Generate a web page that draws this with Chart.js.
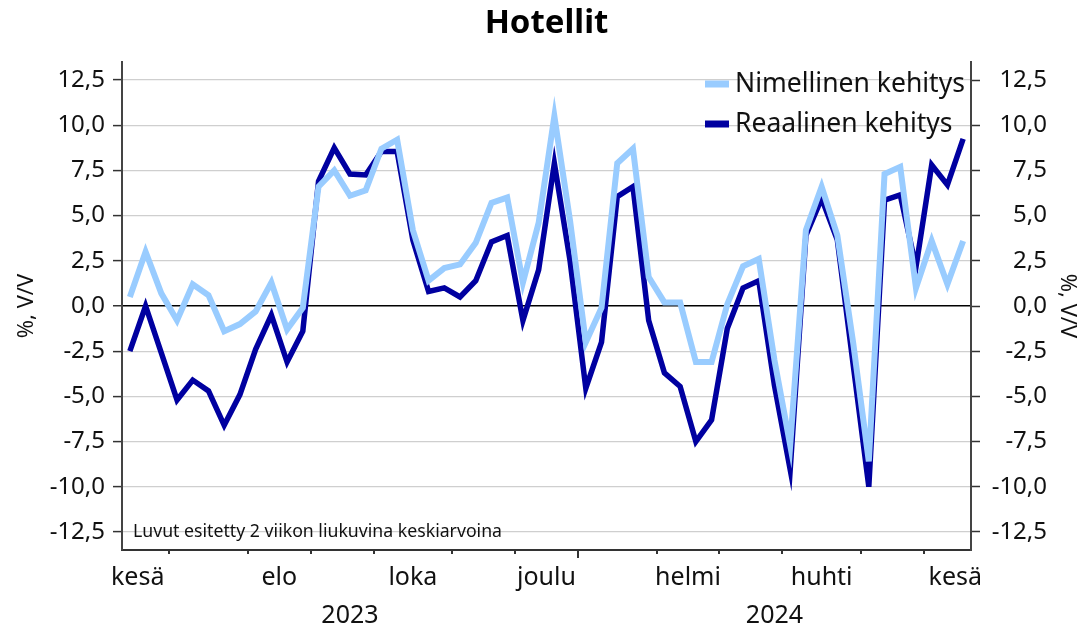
<!DOCTYPE html>
<html>
<head>
<meta charset="utf-8">
<script src="https://cdn.jsdelivr.net/npm/chart.js@4"></script>
<style>
  body { margin: 0; background: #fff; }
</style>
</head>
<body>
<canvas id="chart" width="1082" height="629"></canvas>
<script>
// Weekly values, 2-week moving average (mid June 2023 - mid June 2024)
const nominal = [0.5, 3.0, 0.7, -0.8, 1.2, 0.6, -1.4, -1.0, -0.3, 1.3, -1.3, -0.1,
  6.6, 7.5, 6.1, 6.4, 8.7, 9.2, 4.2, 1.4, 2.1, 2.3, 3.5, 5.7, 6.0,
  1.3, 4.6, 10.5, 4.7, -2.0, -0.1, 7.9, 8.7, 1.6, 0.2, 0.2, -3.1, -3.1,
  0.1, 2.2, 2.6, -3.0, -7.7, 4.2, 6.6, 3.9, -2.0, -8.6, 7.3, 7.7, 1.0, 3.6, 1.2, 3.6];
const real = [-2.5, 0.0, -2.6, -5.2, -4.1, -4.7, -6.6, -4.9, -2.4, -0.5, -3.1, -1.4,
  6.9, 8.75, 7.3, 7.25, 8.55, 8.55, 3.65, 0.8, 1.0, 0.5, 1.4, 3.55, 3.9,
  -0.8, 2.0, 7.9, 2.5, -4.55, -2.0, 6.05, 6.6, -0.8, -3.7, -4.45, -7.5, -6.3,
  -1.25, 1.0, 1.4, -4.4, -9.05, 3.9, 5.95, 3.65, -3.2, -10.0, 5.85, 6.15, 2.15, 7.8, 6.7, 9.25];

const seriesNames = ['Nimellinen kehitys', 'Reaalinen kehitys'];
const months = ['kesä', 'heinä', 'elo', 'syys', 'loka', 'marras', 'joulu',
  'tammi', 'helmi', 'maalis', 'huhti', 'touko', 'kesä'];
const weeksInMonth = [4, 5, 4, 4, 5, 4, 4, 5, 4, 4, 5, 4, 4];
const years = ['2023', '2024'];
const yTicks = [-12.5, -10, -7.5, -5, -2.5, 0, 2.5, 5, 7.5, 10, 12.5];

const LIGHT = '#99ccff';
const DARK = '#0000a0';
const FONT = '"Noto Sans", "DejaVu Sans", sans-serif';

// month boundaries in week units (first month starts one week before first point)
const boundaries = [];
let start = -1.5;
const monthStarts = [];
weeksInMonth.forEach(w => { monthStarts.push(start); start += w; boundaries.push(start); });
const labelMonths = months.map((m, i) => i).filter(i => i % 2 === 0);
const monthMid = labelMonths.map(i => monthStarts[i] + weeksInMonth[i] / 2);
const xMin = -0.5, xMax = nominal.length - 0.5;
const yearStart = monthStarts[months.indexOf('tammi')];
const yearMid = [(xMin + yearStart) / 2, (yearStart + xMax) / 2];

const fmt = v => v.toFixed(1).replace('.', ',');

const extras = {
  id: 'extras',
  afterDatasetsDraw(chart) {
    const ctx = chart.ctx;
    const x = chart.scales.x;
    const area = chart.chartArea;
    ctx.save();
    // title
    ctx.fillStyle = '#000';
    ctx.font = 'bold 33px ' + FONT;
    ctx.textAlign = 'center';
    ctx.textBaseline = 'middle';
    ctx.fillText('Hotellit', (area.left + area.right) / 2, 24);
    // month tick marks below the axis
    ctx.strokeStyle = '#333';
    ctx.lineWidth = 2;
    boundaries.slice(0, -1).forEach(b => {
      const px = Math.round(x.getPixelForValue(b));
      const len = b === yearStart ? 8 : 4;
      ctx.beginPath();
      ctx.moveTo(px, area.bottom);
      ctx.lineTo(px, area.bottom + len);
      ctx.stroke();
    });
    // note
    ctx.fillStyle = '#111';
    ctx.font = '17.7px ' + FONT;
    ctx.textAlign = 'left';
    ctx.fillText('Luvut esitetty 2 viikon liukuvina keskiarvoina', area.left + 11, 532);
    // legend
    const colors = [LIGHT, DARK];
    ctx.font = '26.5px ' + FONT;
    seriesNames.forEach((name, i) => {
      const y = 84 + i * 40;
      ctx.fillStyle = colors[i];
      ctx.fillRect(705, y - 3.5, 24, 7);
      ctx.fillStyle = '#111';
      ctx.fillText(name, 735, y);
    });
    ctx.restore();
  }
};

new Chart(document.getElementById('chart'), {
  type: 'line',
  data: {
    datasets: [
      {
        label: seriesNames[0],
        data: nominal.map((v, i) => ({ x: i, y: v })),
        borderColor: LIGHT,
        borderWidth: 6,
        pointRadius: 0,
        tension: 0
      },
      {
        label: seriesNames[1],
        data: real.map((v, i) => ({ x: i, y: v })),
        borderColor: DARK,
        borderWidth: 5.5,
        pointRadius: 0,
        tension: 0
      }
    ]
  },
  options: {
    responsive: false,
    animation: false,
    layout: { padding: { top: 62, right: 35, left: 0, bottom: 0 } },
    plugins: {
      legend: { display: false },
      tooltip: { enabled: false },
      title: { display: false }
    },
    scales: {
      x: {
        type: 'linear',
        position: 'bottom',
        weight: 0,
        min: xMin,
        max: xMax,
        afterBuildTicks: s => { s.ticks = monthMid.map(v => ({ value: v })); },
        afterFit: s => { s.height = 44; },
        grid: { display: false, drawTicks: true, tickLength: 0 },
        border: { display: true, color: '#333', width: 2 },
        ticks: {
          autoSkip: false,
          maxRotation: 0,
          padding: 13,
          color: '#111',
          font: { family: FONT, size: 25 },
          callback: (v, i) => months[labelMonths[i]]
        }
      },
      x2: {
        type: 'linear',
        position: 'bottom',
        weight: 1,
        min: xMin,
        max: xMax,
        afterBuildTicks: s => { s.ticks = yearMid.map(v => ({ value: v })); },
        afterFit: s => { s.height = 35; },
        grid: { display: false, drawTicks: false },
        border: { display: false },
        ticks: {
          autoSkip: false,
          maxRotation: 0,
          padding: 7,
          color: '#111',
          font: { family: FONT, size: 25 },
          callback: (v, i) => years[i]
        }
      },
      y: {
        position: 'left',
        min: -13.5,
        max: 13.5,
        afterBuildTicks: s => { s.ticks = yTicks.map(v => ({ value: v })); },
        afterFit: s => { s.width = 122; },
        grid: {
          color: c => (c.tick && c.tick.value === 0 ? '#000' : '#cfcfcf'),
          lineWidth: c => (c.tick && c.tick.value === 0 ? 1.5 : 1.2),
          tickColor: '#333',
          tickLength: 9,
          tickWidth: 1.5
        },
        border: { display: true, color: '#444', width: 2 },
        ticks: {
          padding: 8,
          color: '#111',
          font: { family: FONT, size: 24 },
          callback: v => fmt(v)
        },
        title: {
          display: true,
          text: '%, V/V',
          color: '#111',
          font: { family: FONT, size: 22 },
          padding: { top: 14, bottom: 0 }
        }
      },
      y1: {
        position: 'right',
        min: -13.5,
        max: 13.5,
        afterBuildTicks: s => { s.ticks = yTicks.map(v => ({ value: v })); },
        afterFit: s => { s.width = 76; },
        grid: {
          drawOnChartArea: false,
          tickColor: '#333',
          tickLength: 9,
          tickWidth: 1.5
        },
        border: { display: true, color: '#444', width: 2 },
        ticks: {
          padding: 7,
          crossAlign: 'far',
          color: '#111',
          font: { family: FONT, size: 24 },
          callback: v => fmt(v)
        },
        title: {
          display: true,
          text: '%, V/V',
          color: '#111',
          font: { family: FONT, size: 22 },
          padding: { top: -33.2, bottom: 0 }
        }
      }
    }
  },
  plugins: [extras]
});
</script>
</body>
</html>
